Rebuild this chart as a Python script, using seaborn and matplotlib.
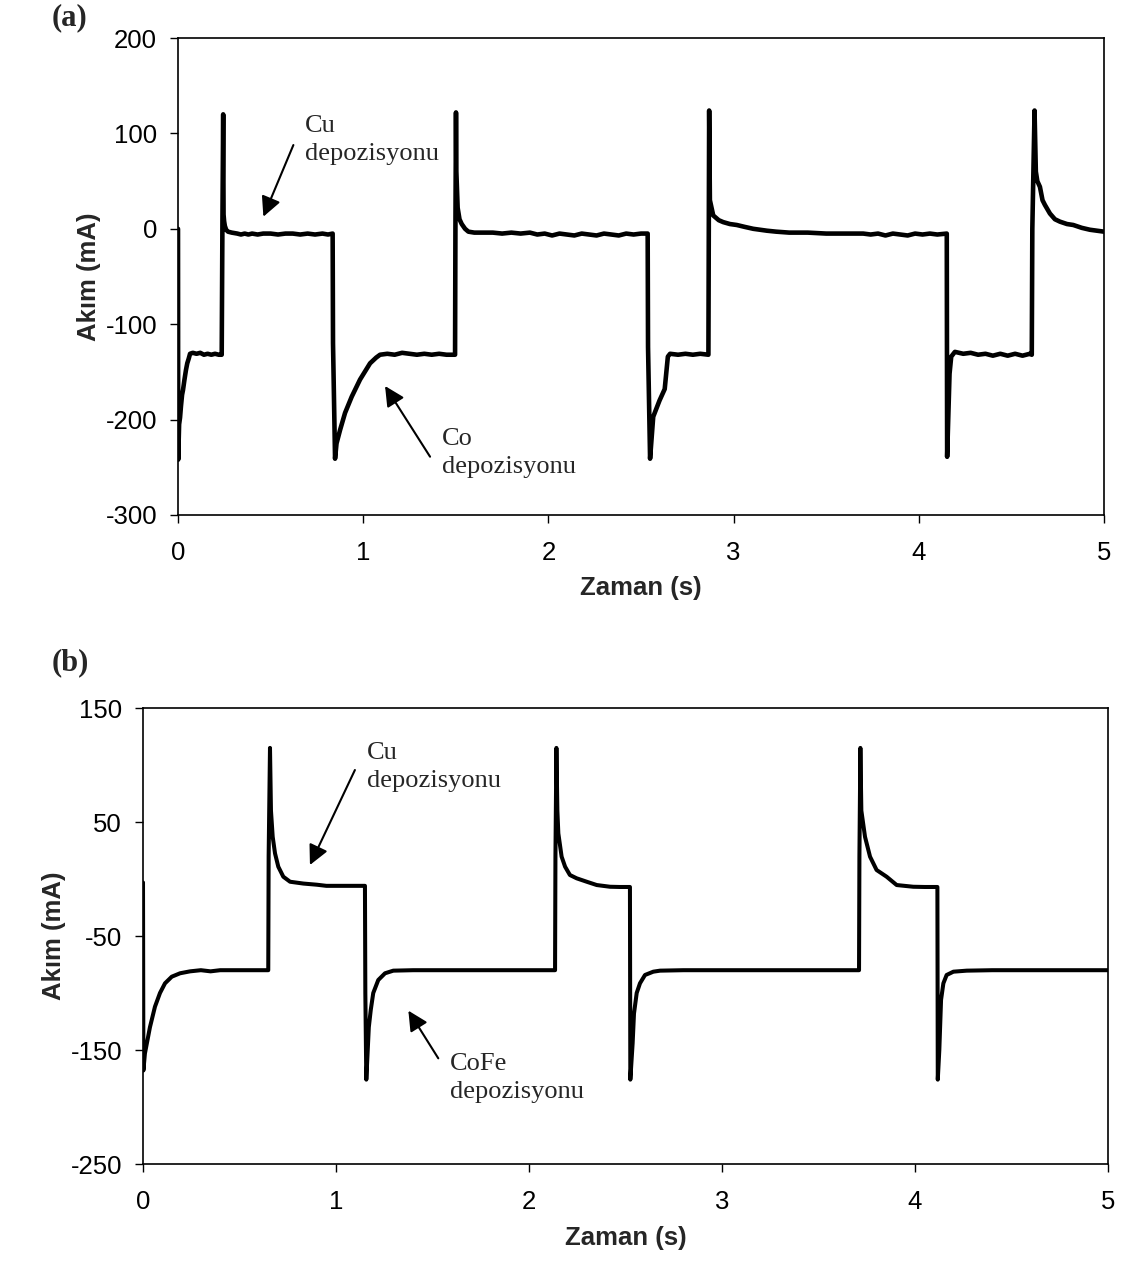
import matplotlib
matplotlib.use("Agg")
import matplotlib.pyplot as plt
import pandas as pd
import seaborn as sns

# ---------------- data ----------------
# Panel (a): Cu / Co deposition current transient
t_a = [0.000, 0.001, 0.006, 0.011, 0.016, 0.022, 0.027, 0.035, 0.043, 0.050,
       0.058, 0.065, 0.080, 0.100, 0.120, 0.140, 0.160, 0.180, 0.200, 0.220,
       0.236, 0.240, 0.244, 0.246, 0.249, 0.253, 0.260, 0.270, 0.290, 0.320,
       0.340, 0.360, 0.380, 0.400, 0.430, 0.460, 0.500, 0.540, 0.580, 0.620,
       0.660, 0.700, 0.740, 0.780, 0.810, 0.835, 0.837, 0.848, 0.856, 0.875,
       0.902, 0.938, 0.983, 1.037, 1.070, 1.091, 1.130, 1.170, 1.210, 1.250,
       1.290, 1.330, 1.370, 1.410, 1.450, 1.496, 1.498, 1.501, 1.503, 1.510,
       1.520, 1.532, 1.550, 1.568, 1.600, 1.650, 1.700, 1.750, 1.800, 1.850,
       1.900, 1.940, 1.980, 2.020, 2.060, 2.100, 2.140, 2.180, 2.220, 2.260,
       2.300, 2.340, 2.380, 2.420, 2.460, 2.500, 2.536, 2.538, 2.549, 2.566,
       2.600, 2.628, 2.636, 2.645, 2.657, 2.700, 2.740, 2.780, 2.820, 2.864,
       2.866, 2.868, 2.872, 2.882, 2.890, 2.920, 2.944, 2.980, 3.017, 3.060,
       3.106, 3.180, 3.230, 3.300, 3.400, 3.500, 3.600, 3.700, 3.740, 3.780,
       3.820, 3.860, 3.900, 3.940, 3.980, 4.020, 4.060, 4.100, 4.151, 4.153,
       4.166, 4.175, 4.195, 4.240, 4.280, 4.320, 4.360, 4.400, 4.440, 4.480,
       4.520, 4.560, 4.600, 4.610, 4.613, 4.625, 4.632, 4.640, 4.654, 4.668,
       4.681, 4.708, 4.735, 4.762, 4.800, 4.834, 4.880, 4.924, 4.960, 5.000]
i_a = [0, -242, -205, -198, -186, -174, -169, -158, -148, -141,
       -136, -131, -130, -131, -130, -132, -131, -132, -131, -132,
       -132, 10, 120, 15, 8, 3, -1, -3, -4, -5,
       -6, -5, -6, -5, -6, -5, -5, -6, -5, -5,
       -6, -5, -6, -5, -6, -5, -120, -241, -225, -211,
       -193, -176, -158, -141, -135, -132, -131, -132, -130, -131,
       -132, -131, -132, -131, -132, -132, 0, 122, 60, 22,
       10, 5, 0, -3, -4, -4, -4, -5, -4, -5,
       -4, -6, -5, -7, -5, -6, -7, -5, -6, -7,
       -5, -6, -7, -5, -6, -5, -5, -124, -241, -197,
       -180, -168, -152, -134, -131, -132, -131, -132, -131, -132,
       0, 124, 30, 21, 14, 9, 7, 5, 4, 2,
       0, -2, -3, -4, -4, -5, -5, -5, -6, -5,
       -7, -5, -6, -7, -5, -6, -5, -6, -5, -239,
       -152, -134, -129, -131, -130, -132, -131, -133, -131, -133,
       -131, -133, -131, -132, 0, 124, 60, 50, 44, 30,
       25, 16, 10, 7.5, 5, 4, 1, -1, -2, -3]

# Panel (b): Cu / CoFe deposition current transient
t_b = [0.000, 0.002, 0.010, 0.036, 0.062, 0.088, 0.114, 0.149, 0.192, 0.244,
       0.300, 0.350, 0.400, 0.450, 0.500, 0.550, 0.600, 0.649, 0.651, 0.658,
       0.663, 0.672, 0.684, 0.701, 0.727, 0.762, 0.831, 0.900, 0.950, 1.000,
       1.050, 1.100, 1.150, 1.152, 1.157, 1.163, 1.170, 1.180, 1.193, 1.219,
       1.254, 1.297, 1.400, 1.600, 1.800, 2.000, 2.135, 2.137, 2.142, 2.147,
       2.152, 2.169, 2.187, 2.212, 2.247, 2.299, 2.351, 2.420, 2.470, 2.523,
       2.525, 2.537, 2.544, 2.558, 2.575, 2.601, 2.644, 2.679, 2.800, 3.000,
       3.200, 3.400, 3.600, 3.710, 3.712, 3.717, 3.722, 3.741, 3.767, 3.801,
       3.853, 3.905, 3.991, 4.050, 4.116, 4.118, 4.126, 4.135, 4.147, 4.164,
       4.199, 4.268, 4.400, 4.600, 4.800, 5.000]
i_b = [-3, -168, -153, -130, -112, -100, -91.5, -85.7, -82.7, -81,
       -80, -81, -80, -80, -80, -80, -80, -80, 20, 115,
       60, 37, 22.5, 10.8, 2, -2.4, -4, -5, -6, -6,
       -6, -6, -6, -100, -176, -155, -130, -115, -100, -88.6,
       -82.7, -80.4, -80, -80, -80, -80, -80, 20, 115, 60,
       40, 19.6, 10.8, 3.5, 0.6, -2.4, -5.3, -6.8, -7, -7,
       -176, -144, -118, -100, -91.5, -84.2, -81.3, -80.4, -80, -80,
       -80, -80, -80, -80, 20, 115, 60, 37, 19.6, 7.9,
       2, -5.3, -6.8, -7, -7, -176, -150, -106, -91.5, -84.2,
       -81.3, -80.4, -80, -80, -80, -80]

x_ticks = [0, 1, 2, 3, 4, 5]
y_ticks_a = [-300, -200, -100, 0, 100, 200]
y_ticks_b = [-250, -150, -50, 50, 150]

panel_labels = ["(a)", "(b)"]
x_label = "Zaman (s)"
y_label = "Akım (mA)"

# ---------------- style ----------------
sns.set_theme(style="ticks")
plt.rcParams["font.family"] = ["Liberation Sans", "DejaVu Sans"]
plt.rcParams["axes.edgecolor"] = "black"
plt.rcParams["axes.linewidth"] = 1.2

W, H = 1127, 1268
fig = plt.figure(figsize=(W / 100, H / 100), dpi=100)
fig.patch.set_facecolor("white")

ax_a = fig.add_axes([178 / W, 1 - 515 / H, (1104 - 178) / W, (515 - 38) / H])
ax_b = fig.add_axes([143 / W, 1 - 1164 / H, (1108 - 143) / W, (1164 - 708) / H])

df_a = pd.DataFrame({"t": t_a, "i": i_a})
df_b = pd.DataFrame({"t": t_b, "i": i_b})

line_kw = dict(color="black", solid_joinstyle="round", solid_capstyle="round",
               estimator=None, sort=False, legend=False)
sns.lineplot(data=df_a, x="t", y="i", ax=ax_a, lw=3.3, **line_kw)
sns.lineplot(data=df_b, x="t", y="i", ax=ax_b, lw=2.9, **line_kw)

for ax, yt in ((ax_a, y_ticks_a), (ax_b, y_ticks_b)):
    ax.set_xlim(x_ticks[0], x_ticks[-1])
    ax.set_ylim(yt[0], yt[-1])
    ax.set_xticks(x_ticks)
    ax.set_yticks(yt)
    ax.set_xticklabels([str(v) for v in x_ticks])
    ax.set_yticklabels([str(v) for v in yt])
    ax.tick_params(axis="both", direction="out", length=6, width=1.0,
                   labelsize=18.5, colors="black")
    ax.tick_params(axis="y", pad=9)
    ax.tick_params(axis="x", pad=13)
    for s in ax.spines.values():
        s.set_visible(True)
        s.set_color("black")
        s.set_linewidth(1.2)
    ax.set_facecolor("white")
    ax.set_xlabel(x_label, fontsize=18.5, fontweight="bold", labelpad=8)
    ax.set_ylabel(y_label, fontsize=18.5, fontweight="bold", labelpad=3)

serif = ["Liberation Serif", "DejaVu Serif"]
arrow = dict(arrowstyle="-|>", color="black", lw=1.5, mutation_scale=30,
             shrinkA=0, shrinkB=0)
note_kw = dict(family=serif, fontsize=19, ha="left", va="top", linespacing=1.35)

# Panel (a) annotations
ax_a.annotate("", xy=(0.461, 12.7), xytext=(0.623, 87.8), arrowprops=arrow)
ax_a.text(0.686, 119.7, "Cu\ndepozisyonu", **note_kw)
ax_a.annotate("", xy=(1.118, -164.8), xytext=(1.361, -238.9), arrowprops=arrow)
ax_a.text(1.424, -208.8, "Co\ndepozisyonu", **note_kw)

# Panel (b) annotations
ax_b.annotate("", xy=(0.865, 12.3), xytext=(1.098, 95.6), arrowprops=arrow)
ax_b.text(1.159, 120.4, "Cu\ndepozisyonu", **note_kw)
ax_b.annotate("", xy=(1.375, -115.5), xytext=(1.530, -157.3), arrowprops=arrow)
ax_b.text(1.591, -152.9, "CoFe\ndepozisyonu", **note_kw)

# Panel letters
fig.text(52 / W, 1 - 3 / H, panel_labels[0], family=serif, fontsize=22,
         fontweight="bold", ha="left", va="top")
fig.text(52 / W, 1 - 648 / H, panel_labels[1], family=serif, fontsize=22,
         fontweight="bold", ha="left", va="top")

fig.savefig("out.png", dpi=100, facecolor="white")
